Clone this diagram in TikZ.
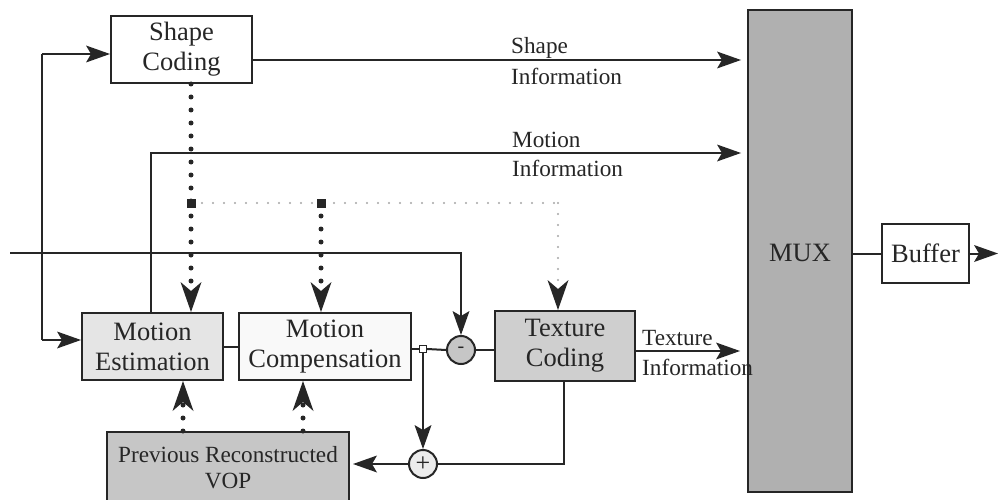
\documentclass[tikz,border=0pt]{standalone}
\usepackage{fontspec}
\setmainfont{Liberation Serif}
\usetikzlibrary{arrows.meta,calc}
\definecolor{ink}{HTML}{262626}
\tikzset{
  box/.style={draw=ink,line width=2pt,inner sep=0pt,align=center,text=ink,font=\fontsize{26.5}{30}\selectfont},
  lab/.style={anchor=west,inner sep=0pt,align=left,text=ink,font=\fontsize{23.2}{28}\selectfont},
  conn/.style={draw=ink,line width=2pt},
  arr/.style={conn,-{Stealth[length=24pt,width=17pt,inset=5pt,line width=0pt]}},
  dots/.style={draw=ink,line width=5pt,line cap=round,dash pattern=on 0pt off 13pt},
  dotarr/.style={dots,-{Stealth[length=30pt,width=21pt,inset=9pt,line width=0pt]}},
  fdots/.style={draw=gray!70,line width=2.4pt,line cap=round,dash pattern=on 0pt off 11pt},
  fdotarr/.style={fdots,-{Stealth[length=30pt,width=21pt,inset=9pt,line width=0pt,color=ink]}},
  junc/.style={draw=ink,fill=ink,minimum size=8pt,inner sep=0pt},
  sumc/.style={circle,draw=ink,line width=2pt,minimum size=28pt,inner sep=0pt,text=ink}
}
\begin{document}
\begin{tikzpicture}[x=1pt,y=-1pt]
\clip (0,0) rectangle (998,500);
\fill[white] (0,0) rectangle (998,500);
% blocks
\node[box,fill=white,minimum width=141pt,minimum height=67pt] (sc) at (181.5,49.5) {Shape\\Coding};
\node[box,fill=gray!20,minimum width=141pt,minimum height=67pt] (me) at (152.5,346.5) {Motion\\Estimation};
\node[box,fill=gray!5,minimum width=172pt,minimum height=67pt] (mc) at (325,346.5) {Motion\\Compensation};
\node[box,fill=gray!38,minimum width=140pt,minimum height=70pt] (tc) at (565,346) {Texture\\Coding};
\node[box,fill=gray!45,minimum width=242pt,minimum height=71pt,font=\fontsize{23.2}{26}\selectfont] (prv) at (228,467.5) {Previous Reconstructed\\VOP};
\node[box,fill=gray!62,minimum width=104pt,minimum height=482pt] (mux) at (800,251) {};
\node[text=ink,font=\fontsize{26.5}{30}\selectfont,inner sep=0pt] (muxl) at (800,253) {MUX};
\node[box,fill=white,minimum width=87pt,minimum height=59pt] (buf) at (925.5,253.5) {Buffer};
\node[sumc,fill=gray!45,font=\fontsize{20}{20}\selectfont] (minus) at (461,350) {-};
\node[sumc,fill=gray!15,font=\fontsize{26}{26}\selectfont] (plus) at (423,464) {+};
\node[draw=ink,line width=1.4pt,fill=white,minimum size=7pt,inner sep=0pt] (j) at (423,349) {};
\coordinate (d1) at (191,203);
\coordinate (d2) at (321,203);
\coordinate (d3) at (558,203);
% labels
\node[lab] (l1a) at (511,48) {Shape};
\node[lab] (l1b) at (511,76) {Information};
\node[lab] (l2a) at (512,140) {Motion};
\node[lab] (l2b) at (512,168) {Information};
\node[lab] (l3a) at (642,338) {Texture};
\node[lab] (l3b) at (642,367) {Information};
% coordinates
\coordinate (in) at (10,253);
\coordinate (fa) at (42,54);
\coordinate (fb) at (42,340);
\coordinate (mi) at (151,153);
\coordinate (si) at (252,60);
\coordinate (ti) at (635,351);
\coordinate (tcb) at (564,464);
\coordinate (u1) at (183,400);
\coordinate (u2) at (303,400);
\coordinate (out) at (998,253.5);
% solid connectors
\draw[conn] (fa) -- (fb);
\draw[arr] (fa) -- (fa -| sc.west);
\draw[arr] (fb) -- (fb -| me.west);
\draw[arr] (in) -| (minus.north);
\draw[arr,shorten >=6pt] (si) -- (si -| mux.west);
\draw[arr,shorten >=6pt] (mi |- me.north) -- (mi) -- (mi -| mux.west);
\draw[arr,shorten >=7pt] (ti) -- (ti -| mux.west);
\draw[conn] (mux.east |- buf.west) -- (buf.west);
\draw[arr] (buf.east) -- (out);
\draw[conn] (me.east) -- (mc.west);
\draw[conn] (j -| mc.east) -- (j.west);
\draw[conn] (j.east) -- (minus.west);
\draw[conn] (minus.east) -- (minus.east -| tc.west);
\draw[arr] (j.south) -- (plus.north);
\draw[conn] (tcb |- tc.south) -- (tcb) -- (plus.east);
\draw[arr,shorten >=3pt] (plus.west) -- (plus.west -| prv.east);
% dotted connectors
\draw[dots] (d1 |- sc.south) -- (d1);
\draw[dotarr] (d1) -- (d1 |- me.north);
\draw[dotarr] (d2) -- (d2 |- mc.north);
\draw[fdots] (d1) -- (d2) -- (d3);
\draw[fdotarr] (d3) -- (d3 |- tc.north);
\draw[dotarr] (u1 |- prv.north) -- (u1 |- me.south);
\draw[dotarr] (u2 |- prv.north) -- (u2 |- mc.south);
\node[junc] (jd1) at (d1) {};
\node[junc] (jd2) at (d2) {};
\end{tikzpicture}
\end{document}
